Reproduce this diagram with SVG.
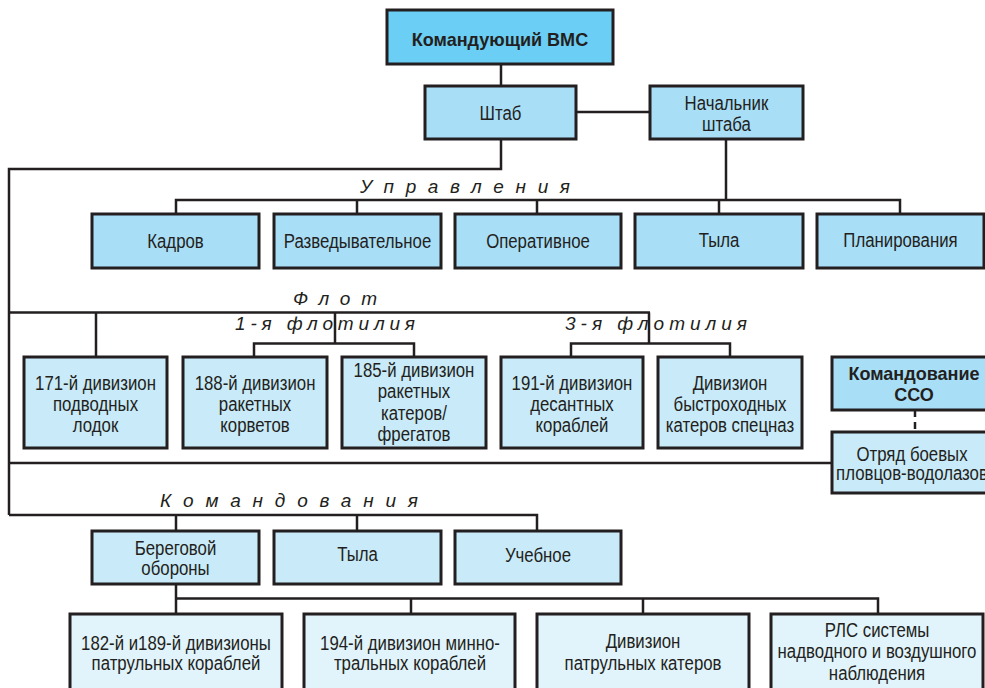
<svg xmlns="http://www.w3.org/2000/svg" width="985" height="688" viewBox="0 0 985 688">
<style>
rect{stroke:#231F20;stroke-width:3}
.b1{fill:#6BCEF4}
.b2{fill:#A9DEF7}
.b3{fill:#C9EAF8}
.b4{fill:#E1F3FB}
.t{font-family:"Liberation Sans",Arial,sans-serif;font-size:21px;fill:#231F20;text-anchor:middle}
.tb{font-family:"Liberation Sans",Arial,sans-serif;font-size:19px;font-weight:bold;fill:#231F20;text-anchor:middle}
.lb{font-family:"Liberation Sans",Arial,sans-serif;font-size:19px;font-style:italic;fill:#231F20}
#connectors path{fill:none;stroke:#231F20;stroke-width:2.5}
#connectors path.dash{stroke-dasharray:7 5}
</style>
<rect x="0" y="0" width="985" height="688" fill="#FFFFFF" style="stroke:none"/>
<g id="connectors">
<path d="M501,64V86"/>
<path d="M576,112H650"/>
<path d="M501,139V169H9V515"/>
<path d="M726,139V200"/>
<path d="M176,214V200H900V214M357,200V214M537,200V214M719,200V214"/>
<path d="M9,312.5H650M96,312.5V357M335,312.5V343.5M254,357V343.5H414V357M649,312.5V343.5M571,357V343.5H730V357"/>
<path d="M9,463H832"/>
<path class="dash" d="M915,410V432"/>
<path d="M9,515H537V531M176,515V531M357,515V531"/>
<path d="M176,584V598.5M176,614V598.5H878V614M411,598.5V614M643,598.5V614"/>
</g>
<g id="labels">
<text class="lb" x="360" y="192.5" textLength="210" lengthAdjust="spacing">Управления</text>
<text class="lb" x="293" y="304.5" textLength="84" lengthAdjust="spacing">Флот</text>
<text class="lb" x="235" y="330" textLength="180" lengthAdjust="spacing">1-я  флотилия</text>
<text class="lb" x="565" y="330" textLength="182" lengthAdjust="spacing">3-я  флотилия</text>
<text class="lb" x="160" y="506.5" textLength="258" lengthAdjust="spacing">Командования</text>
</g>
<g id="n-cmd"><rect class="b1" x="387" y="10" width="226" height="54"/><text class="tb" transform="scale(0.95 1)" x="526.3" y="46">Командующий ВМС</text></g>
<g id="n-shtab"><rect class="b2" x="425" y="86" width="151" height="53"/><text class="t" transform="scale(0.8 1)" x="625.6" y="120">Штаб</text></g>
<g id="n-nach"><rect class="b2" x="650" y="86" width="153" height="53"/><text class="t" transform="scale(0.8 1)" x="908.1" y="110">Начальник</text><text class="t" transform="scale(0.8 1)" x="908.1" y="131.5">штаба</text></g>
<g id="n-kadrov"><rect class="b2" x="92" y="214" width="167" height="54"/><text class="t" transform="scale(0.8 1)" x="219.4" y="248.5">Кадров</text></g>
<g id="n-razved"><rect class="b2" x="274" y="214" width="167" height="54"/><text class="t" transform="scale(0.8 1)" x="446.9" y="248.5">Разведывательное</text></g>
<g id="n-oper"><rect class="b2" x="455" y="214" width="166" height="54"/><text class="t" transform="scale(0.8 1)" x="672.5" y="248.5">Оперативное</text></g>
<g id="n-tyla1"><rect class="b2" x="635" y="214" width="168" height="54"/><text class="t" transform="scale(0.8 1)" x="898.8" y="247">Тыла</text></g>
<g id="n-plan"><rect class="b2" x="817" y="214" width="167" height="54"/><text class="t" transform="scale(0.8 1)" x="1125.6" y="247">Планирования</text></g>
<g id="n-171"><rect class="b3" x="24" y="357" width="143" height="91"/><text class="t" transform="scale(0.8 1)" x="119.4" y="390">171-й дивизион</text><text class="t" transform="scale(0.8 1)" x="119.4" y="411">подводных</text><text class="t" transform="scale(0.8 1)" x="119.4" y="432">лодок</text></g>
<g id="n-188"><rect class="b3" x="183" y="357" width="144" height="91"/><text class="t" transform="scale(0.8 1)" x="318.8" y="390">188-й дивизион</text><text class="t" transform="scale(0.8 1)" x="318.8" y="411">ракетных</text><text class="t" transform="scale(0.8 1)" x="318.8" y="432">корветов</text></g>
<g id="n-185"><rect class="b3" x="342" y="357" width="144" height="91"/><text class="t" transform="scale(0.8 1)" x="517.5" y="377">185-й дивизион</text><text class="t" transform="scale(0.8 1)" x="517.5" y="398">ракетных</text><text class="t" transform="scale(0.8 1)" x="517.5" y="420">катеров/</text><text class="t" transform="scale(0.8 1)" x="517.5" y="441">фрегатов</text></g>
<g id="n-191"><rect class="b3" x="501" y="357" width="142" height="91"/><text class="t" transform="scale(0.8 1)" x="715" y="390">191-й дивизион</text><text class="t" transform="scale(0.8 1)" x="715" y="411">десантных</text><text class="t" transform="scale(0.8 1)" x="715" y="432">кораблей</text></g>
<g id="n-spec"><rect class="b3" x="658" y="357" width="144" height="91"/><text class="t" transform="scale(0.8 1)" x="912.5" y="390">Дивизион</text><text class="t" transform="scale(0.8 1)" x="912.5" y="411">быстроходных</text><text class="t" transform="scale(0.8 1)" x="912.5" y="432">катеров спецназ</text></g>
<g id="n-sso"><rect class="b2" x="832" y="357" width="166" height="53"/><text class="tb" transform="scale(0.95 1)" x="962.1" y="380">Командование</text><text class="tb" transform="scale(0.95 1)" x="962.1" y="401.5">ССО</text></g>
<g id="n-otryad"><rect class="b3" x="832" y="432" width="166" height="61"/><text class="t" transform="scale(0.8 1)" x="1140" y="461.5">Отряд боевых</text><text class="t" transform="scale(0.8 1)" x="1140" y="480">пловцов-водолазов</text></g>
<g id="n-bereg"><rect class="b3" x="92" y="531" width="167" height="53"/><text class="t" transform="scale(0.8 1)" x="219.4" y="555">Береговой</text><text class="t" transform="scale(0.8 1)" x="219.4" y="575.5">обороны</text></g>
<g id="n-tyla2"><rect class="b3" x="274" y="531" width="167" height="53"/><text class="t" transform="scale(0.8 1)" x="446.9" y="561.5">Тыла</text></g>
<g id="n-ucheb"><rect class="b3" x="455" y="531" width="166" height="53"/><text class="t" transform="scale(0.8 1)" x="672.5" y="562.5">Учебное</text></g>
<g id="n-182"><rect class="b4" x="70" y="614" width="212" height="90"/><text class="t" transform="scale(0.8 1)" x="220" y="650">182-й и189-й дивизионы</text><text class="t" transform="scale(0.8 1)" x="220" y="670.5">патрульных кораблей</text></g>
<g id="n-194"><rect class="b4" x="304" y="614" width="211" height="90"/><text class="t" transform="scale(0.8 1)" x="512.5" y="650">194-й дивизион минно-</text><text class="t" transform="scale(0.8 1)" x="512.5" y="670.5">тральных кораблей</text></g>
<g id="n-patr"><rect class="b4" x="537" y="614" width="212" height="90"/><text class="t" transform="scale(0.8 1)" x="803.8" y="648">Дивизион</text><text class="t" transform="scale(0.8 1)" x="803.8" y="670">патрульных катеров</text></g>
<g id="n-rls"><rect class="b4" x="771" y="614" width="212" height="90"/><text class="t" transform="scale(0.8 1)" x="1096.3" y="637">РЛС системы</text><text class="t" transform="scale(0.8 1)" x="1096.3" y="658.5">надводного и воздушного</text><text class="t" transform="scale(0.8 1)" x="1096.3" y="680">наблюдения</text></g>
</svg>
